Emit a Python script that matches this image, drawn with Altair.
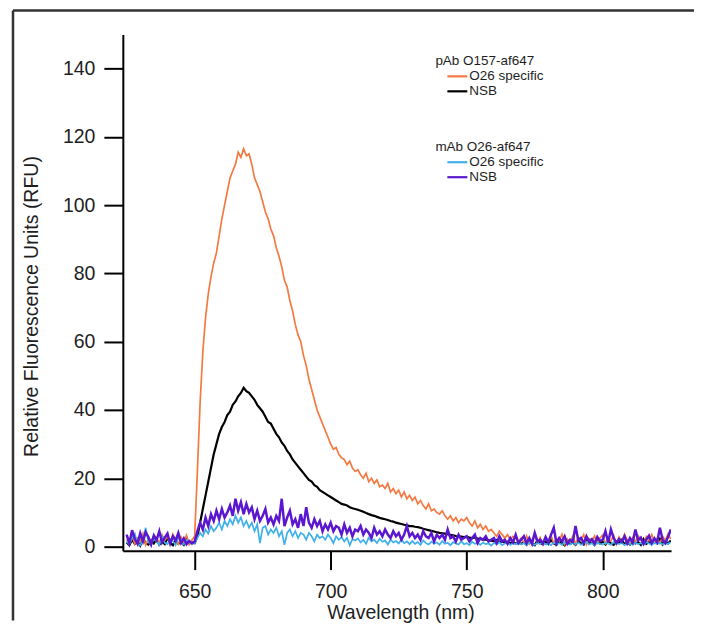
import altair as alt
import pandas as pd

# ---------------- data ----------------
wavelength = list(range(625, 826))  # nm, 1 nm grid

pab_o26_specific = [
    2.1, 1.0, 3.2, 0.8, 2.5, 1.6, 3.8, 0.5, 2.2, 1.4,
    3.0, 2.6, 0.9, 3.5, 1.8, 2.9, 1.1, 3.6, 2.0, 0.7,
    2.8, 1.5, 3.3, 0.6, 1.9,
    3.0, 22, 42, 57, 67, 74, 79, 83, 86, 91,
    96, 100, 104, 108, 110, 112, 115.5, 114, 116.5, 114.5,
    115, 112, 108, 106, 104, 101, 98, 96, 93, 91,
    87.5, 85, 82, 78, 76, 72, 69, 65, 62, 60,
    56, 53, 49, 46, 43, 40, 38, 36, 34, 32,
    30, 28.5, 29, 27, 26, 25.5, 24, 25, 23, 22,
    22.5, 21, 20, 21.5, 19, 20, 18.5, 19.5, 17.5, 18,
    17, 18.5, 16, 17, 15.5, 16.5, 14.5, 16, 14, 15,
    13.5, 14.5, 12.5, 13.5, 12, 11, 12.5, 10.5, 11, 10,
    9.5, 10.5, 9, 8, 9, 7.5, 8.5, 7, 8, 7.5,
    8.5, 7, 6, 7.5, 5.5, 6.5, 5, 6, 4.5, 5,
    4, 3, 4.5, 3.5, 2.5, 3.5, 2, 3, 2.5, 1.5,
    2.5, 1.2, 3.1, 0.8, 2.0, 3.4, 1.0, 2.6, 0.6, 2.9,
    1.4, 3.2, 0.9, 2.4, 1.7, 3.6, 0.7, 2.2, 1.3, 3.0,
    0.8, 2.7, 1.9, 3.5, 0.6, 2.3, 1.5, 3.1, 1.0, 2.5,
    3.4, 0.9, 2.1, 1.6, 3.3, 0.7, 2.8, 1.2, 3.6, 1.9,
    0.8, 2.6, 1.4, 3.2, 2.0, 0.6, 2.9, 1.7, 3.5, 1.1,
    2.4, 0.9, 3.0, 1.8, 3.7, 2.2,
]

pab_nsb = [
    1.2, 0.4, 2.0, 0.8, 1.5, 0.3, 2.4, 1.0, 0.6, 1.8,
    0.9, 2.2, 0.5, 1.4, 0.7, 2.6, 1.1, 0.4, 1.9, 0.8,
    1.3, 0.5, 2.1, 0.9, 1.2,
    1.0, 3.0, 7.0, 11.0, 15.0, 19.0, 23.0, 27.0, 30.0, 33.0,
    35.0, 36.5, 38.5, 39.5, 41.5, 42.5, 44.0, 45.0, 46.5, 45.5,
    45.0, 44.0, 43.0, 41.5, 40.5, 39.5, 38.0, 36.5, 36.0, 34.5,
    33.0, 32.0, 30.5, 29.5, 28.0, 27.0, 25.5, 24.5, 23.5, 22.5,
    21.5, 20.5, 19.5, 19.0, 18.0, 17.5, 16.5, 16.0, 15.5, 15.0,
    14.5, 14.0, 13.5, 13.0, 12.5, 12.3, 12.0, 11.5, 11.2, 11.0,
    10.8, 10.5, 10.2, 9.8, 9.5, 9.2, 9.0, 8.7, 8.4, 8.2,
    8.0, 7.8, 7.5, 7.3, 7.0, 6.8, 6.6, 6.4, 6.2, 6.0,
    6.0, 5.8, 5.7, 5.5, 5.2, 5.0, 4.8, 4.6, 4.4, 4.2,
    4.0, 3.9, 3.8, 3.6, 3.4, 3.3, 3.1, 3.0, 2.9, 2.8,
    2.9, 2.6, 2.5, 2.7, 2.3, 2.2, 2.0, 2.1, 1.8, 1.7,
    1.6, 1.9, 1.4, 1.5, 1.2, 1.4, 1.0, 1.3, 0.9, 1.1,
    0.8, 1.3, 0.5, 1.6, 0.9, 0.4, 1.8, 1.0, 0.6, 1.4,
    0.7, 2.0, 0.9, 0.5, 1.5, 1.1, 0.4, 1.7, 0.8, 1.2,
    0.5, 1.6, 1.0, 0.6, 2.1, 0.8, 1.3, 0.5, 1.9, 0.9,
    1.4, 0.6, 1.8, 0.9, 0.5, 1.5, 1.1, 2.0, 0.7, 1.2,
    0.6, 1.7, 0.9, 1.3, 0.5, 2.2, 0.8, 1.4, 0.7, 1.6,
    1.0, 2.3, 0.6, 1.5, 0.9, 1.8,
]

mab_o26_specific = [
    1.5, 0.6, 2.4, 3.8, 1.0, 0.4, 2.0, 5.5, 1.2, 0.8,
    2.6, 1.4, 0.5, 3.0, 1.1, 0.7, 2.2, 1.6, 0.4, 2.8,
    1.0, 0.6, 1.9, 1.3, 0.8,
    1.0, 2.5, 4.0, 3.0, 5.0, 3.8, 6.0, 4.5, 5.5, 7.0,
    5.0, 7.5, 6.0, 8.0, 6.5, 9.0, 7.0, 8.5, 6.0, 7.5,
    5.5, 7.0, 4.5, 6.5, 1.0, 5.5, 6.0, 3.5, 5.0, 4.0,
    5.5, 3.0, 4.5, 0.5, 4.0, 5.0, 3.0, 4.5, 2.5, 4.0,
    3.5, 2.0, 4.0, 3.0, 1.5, 3.5, 2.5, 3.0, 2.0, 3.5,
    2.5, 1.0, 3.0, 2.0, 2.8, 1.5, 2.6, 0.4, 2.2, 1.8,
    2.4, 1.2, 2.0, 0.8, 2.6, 1.5, 2.0, 1.0, 2.3, 1.4,
    1.8, 0.6, 2.0, 1.2, 1.6, 0.9, 2.1, 1.0, 1.5, 0.7,
    1.6, 0.8, 1.3, 0.5, 1.8, 1.0, 0.6, 1.4, 0.9, 1.2,
    0.5, 1.6, 0.8, 1.1, 0.4, 1.3, 0.9, 0.6, 1.5, 0.7,
    1.0, 0.4, 1.4, 0.8, 1.1, 0.5, 1.2, 0.7, 0.9, 0.3,
    1.1, 0.6, 1.3, 0.4, 0.9, 1.2, 0.5, 1.0, 0.7, 1.3,
    0.6, 1.0, 0.4, 1.2, 0.8, 0.5, 1.1, 0.7, 1.4, 0.6,
    0.9, 0.4, 1.2, 0.7, 1.0, 0.5, 1.3, 0.8, 0.6, 1.1,
    0.7, 1.2, 0.5, 0.9, 1.3, 0.6, 1.0, 0.4, 1.1, 0.8,
    0.6, 1.2, 0.8, 0.5, 1.3, 0.9, 0.7, 1.1, 0.4, 1.0,
    0.8, 0.5, 1.2, 0.7, 1.0, 0.6, 1.3, 0.9, 0.5, 1.1,
    0.7, 1.2, 0.6, 1.0, 0.8, 1.3,
]

mab_nsb = [
    3.5, 1.0, 4.8, 2.2, 0.8, 3.9, 1.5, 4.2, 2.8, 0.6,
    3.3, 1.9, 4.5, 1.2, 2.6, 3.8, 0.9, 3.0, 1.7, 4.0,
    1.1, 2.4, 0.7, 1.6, 0.9,
    1.5, 4.5, 7.0, 5.0, 8.5, 6.0, 9.5, 7.5, 10.5, 8.0,
    11.0, 8.5, 10.0, 12.0, 9.0, 14.0, 10.5, 13.0, 9.5, 12.5,
    10.0, 11.5, 8.0, 10.5, 7.5, 9.0, 11.0, 7.0, 8.5, 6.5,
    9.0, 7.5, 14.0, 6.0, 8.5, 10.5, 6.5, 8.0, 5.5, 9.5,
    6.0, 11.5, 7.0, 5.5, 8.0, 6.0, 7.5, 4.5, 6.5, 5.0,
    7.0, 4.5, 6.0, 5.5, 3.5, 6.5, 4.0, 5.5, 3.0, 5.0,
    4.5, 6.0, 3.5, 5.0, 4.0, 2.5, 5.5, 3.5, 4.5, 3.0,
    5.0, 3.5, 2.5, 4.5, 3.0, 4.0, 2.0, 3.5, 6.0, 3.0,
    4.0, 2.5, 3.5, 2.0, 4.5, 3.0, 2.5, 4.0, 1.5, 3.5,
    2.5, 3.5, 2.0, 5.0, 2.5, 3.0, 1.5, 3.5, 2.0, 2.5,
    3.0, 1.5, 2.5, 3.5, 1.0, 2.5, 2.0, 3.0, 1.5, 2.0,
    2.5, 1.0, 3.0, 1.5, 2.0, 0.8, 2.5, 1.2, 3.5, 1.0,
    2.0, 3.0, 1.0, 2.5, 0.8, 4.0, 1.5, 2.0, 0.9, 2.8,
    1.2, 3.5, 5.5, 1.0, 2.5, 1.5, 3.0, 0.8, 2.0, 1.4,
    6.0, 1.8, 2.5, 1.0, 3.0, 1.5, 2.2, 0.9, 2.8, 1.6,
    2.0, 4.5, 1.2, 5.0, 2.5, 1.0, 2.2, 1.4, 3.0, 0.9,
    2.5, 1.2, 5.0, 1.8, 2.6, 0.8, 2.0, 3.2, 1.1, 2.4,
    1.3, 5.5, 2.0, 1.0, 2.8, 5.0,
]

# drawing order (bottom to top)
series_names = ["pAb NSB", "pAb O26 specific", "mAb O26 specific", "mAb NSB"]
series_values = [pab_nsb, pab_o26_specific, mab_o26_specific, mab_nsb]
series_colors = ["#000000", "#f47a42", "#3fb0ea", "#5b17cf"]
series_widths = [2.2, 1.7, 1.7, 2.5]

legend_headings = ["pAb O157-af647", "mAb O26-af647"]
legend_labels = ["O26 specific", "NSB", "O26 specific", "NSB"]
legend_colors = ["#f47a42", "#000000", "#3fb0ea", "#5b17cf"]

x_ticks = [650, 700, 750, 800]
y_ticks = [0, 20, 40, 60, 80, 100, 120, 140]

FONT = "Liberation Sans"
TXT = "#1e1e1e"
AX_FS = 19.5

x_scale = alt.Scale(domain=[623.6, 825.1], nice=False, zero=False)
y_scale = alt.Scale(domain=[-1.2, 150], nice=False, zero=False)

x_axis = alt.Axis(
    values=x_ticks, title="Wavelength (nm)", grid=False,
    domainColor="#000", domainWidth=2, tickColor="#000", tickWidth=2, tickSize=19,
    labelFontSize=AX_FS, labelFont=FONT, labelColor=TXT, labelPadding=13,
    titleFontSize=AX_FS, titleFont=FONT, titleColor=TXT, titleFontWeight="normal",
    titleY=68, titleX=278, titleBaseline="alphabetic",
)
y_axis = alt.Axis(
    values=y_ticks, title="Relative Fluorescence Units (RFU)", grid=False,
    domainColor="#000", domainWidth=2, tickColor="#000", tickWidth=2, tickSize=19,
    labelFontSize=AX_FS, labelFont=FONT, labelColor=TXT, labelPadding=9,
    titleFontSize=AX_FS, titleFont=FONT, titleColor=TXT, titleFontWeight="normal",
    titleX=-91, titleY=272, titleBaseline="middle", titleAlign="center",
)

rows = []
for name, vals in zip(series_names, series_values):
    for w, v in zip(wavelength, vals):
        rows.append({"wavelength": w, "rfu": v, "series": name})
data = pd.DataFrame(rows)

layers = []
for name, col, sw in zip(series_names, series_colors, series_widths):
    layers.append(
        alt.Chart(data).transform_filter(alt.datum.series == name)
        .mark_line(color=col, strokeWidth=sw, clip=True)
        .encode(
            x=alt.X("wavelength:Q", scale=x_scale, axis=x_axis),
            y=alt.Y("rfu:Q", scale=y_scale, axis=y_axis),
        )
    )

# custom legend (inside plot, top right)
LEG_FS = 13.5
heading_y = [27, 113]
line_y = [42, 57, 128, 143]
for h, yy in zip(legend_headings, heading_y):
    layers.append(
        alt.Chart(pd.DataFrame({"t": [h]})).mark_text(
            align="left", baseline="middle", fontSize=LEG_FS, font=FONT, color=TXT
        ).encode(x=alt.value(313), y=alt.value(yy), text="t:N")
    )
for lab, col, yy in zip(legend_labels, legend_colors, line_y):
    layers.append(
        alt.Chart(pd.DataFrame({"t": [lab]})).mark_rule(color=col, strokeWidth=2.2).encode(
            x=alt.value(325), x2=alt.value(345), y=alt.value(yy)
        )
    )
    layers.append(
        alt.Chart(pd.DataFrame({"t": [lab]})).mark_text(
            align="left", baseline="middle", fontSize=LEG_FS, font=FONT, color=TXT
        ).encode(x=alt.value(347), y=alt.value(yy), text="t:N")
    )

# figure frame (top and left edges)
frame = pd.DataFrame({"k": [0]})
layers.append(
    alt.Chart(frame).mark_rule(color="#333333", strokeWidth=2.5).encode(
        x=alt.value(-110), x2=alt.value(572), y=alt.value(-24)
    )
)
layers.append(
    alt.Chart(frame).mark_rule(color="#333333", strokeWidth=2.5).encode(
        x=alt.value(-110), y=alt.value(-24), y2=alt.value(587)
    )
)

chart = alt.layer(*layers).properties(
    width=549, height=517,
    padding={"left": 3, "top": 0, "right": 0, "bottom": 0},
    background="white",
).configure_view(stroke=None)

chart.save("out.html", embed_options={"renderer": "svg", "actions": False})
